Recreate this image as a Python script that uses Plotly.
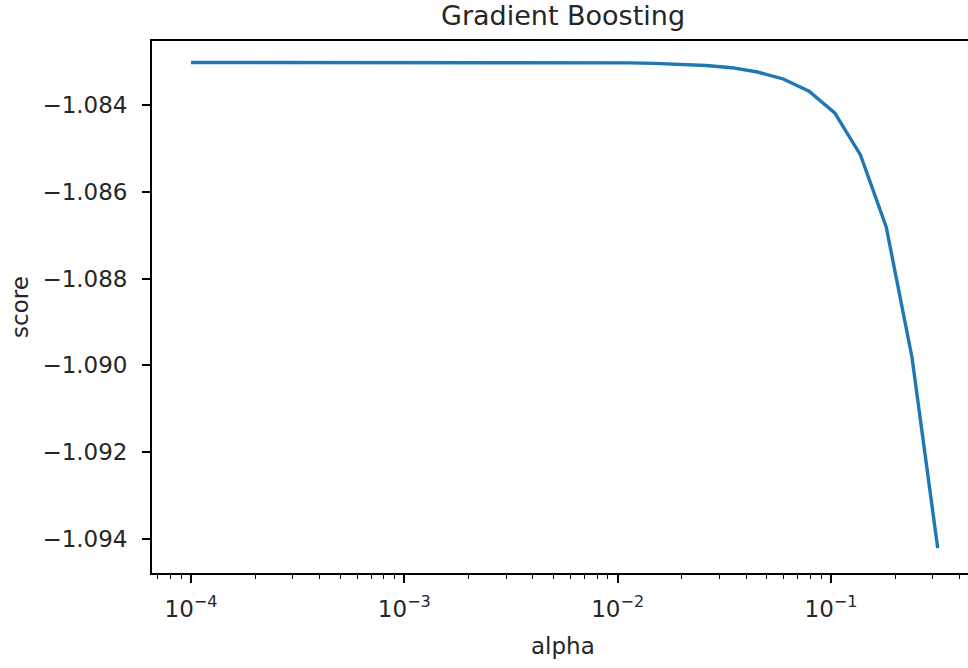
import plotly.graph_objects as go

# alpha values (log-spaced grid)
alpha = [1.0000e-4, 1.3209e-4, 1.7433e-4, 2.3025e-4, 3.0392e-4, 4.0116e-4,
         5.2977e-4, 6.9950e-4, 9.2366e-4, 1.2197e-3, 1.6106e-3, 2.1267e-3,
         2.8083e-3, 3.7083e-3, 4.8967e-3, 6.4660e-3, 8.5317e-3, 1.1265e-2,
         1.4876e-2, 1.9643e-2, 2.5938e-2, 3.4251e-2, 4.5230e-2, 5.9725e-2,
         7.8866e-2, 1.0404e-1, 1.3738e-1, 1.8141e-1, 2.3955e-1, 3.1623e-1]

score = [-1.08302, -1.08302, -1.08302, -1.08302, -1.08302, -1.08302,
         -1.08302, -1.08302, -1.08302, -1.08302, -1.08303, -1.08302,
         -1.08302, -1.08302, -1.08302, -1.08302, -1.08303, -1.08303,
         -1.08304, -1.08306, -1.08309, -1.08314, -1.08324, -1.08340,
         -1.08368, -1.08418, -1.08515, -1.08681, -1.08981, -1.09421]

x_tickvals = [1e-4, 1e-3, 1e-2, 1e-1]
x_ticktext = ["10<sup>\u22124</sup>", "10<sup>\u22123</sup>", "10<sup>\u22122</sup>", "10<sup>\u22121</sup>"]
x_minor_vals = [m * 10.0 ** e for e in (-5, -4, -3, -2, -1) for m in range(2, 10)]
y_tickvals = [-1.084, -1.086, -1.088, -1.090, -1.092, -1.094]

FONT = "DejaVu Sans"
TXT = "#262626"

fig = go.Figure()
fig.add_trace(go.Scatter(x=alpha, y=score, mode="lines",
                         line=dict(color="#1f77b4", width=3.4)))

W, H = 968, 668
L, T, B = 152, 41, 95
fig.update_layout(
    width=W, height=H,
    margin=dict(l=L, r=0, t=T, b=B, pad=0),
    paper_bgcolor="white", plot_bgcolor="white",
    showlegend=False,
    font=dict(family=FONT, size=23, color=TXT),
    title=dict(text="Gradient Boosting", x=563 / W, xanchor="center",
               y=1 - 16 / H, yanchor="middle", yref="container",
               font=dict(family=FONT, size=27, color=TXT)),
)
fig.update_xaxes(
    type="log", range=[-4.183, -0.358],
    showgrid=False, zeroline=False,
    showline=True, linecolor="black", linewidth=1.8, mirror=True,
    ticks="outside", ticklen=8, tickwidth=1.8, tickcolor="black",
    tickvals=x_tickvals, ticktext=x_ticktext,
    tickfont=dict(family=FONT, size=23, color=TXT),
    ticklabelstandoff=6,
    minor=dict(tickmode="array", tickvals=x_minor_vals,
               ticks="outside", ticklen=4.5, tickwidth=1.4, tickcolor="black",
               showgrid=False),
)
fig.update_yaxes(
    range=[-1.094783, -1.082525],
    showgrid=False, zeroline=False,
    showline=True, linecolor="black", linewidth=1.8, mirror=False,
    ticks="outside", ticklen=8, tickwidth=1.8, tickcolor="black",
    tickvals=y_tickvals, tickformat=".3f",
    tickfont=dict(family=FONT, size=23, color=TXT),
    ticklabelstandoff=10,
)
pw = W - L
ph = H - T - B
fig.add_annotation(text="alpha", xref="paper", yref="paper",
                   x=(563 - L) / pw, y=(H - B - 646) / ph,
                   xanchor="center", yanchor="middle", showarrow=False,
                   font=dict(family=FONT, size=23, color=TXT))
fig.add_annotation(text="score", xref="paper", yref="paper",
                   x=(20 - L) / pw, y=(H - B - 307) / ph, textangle=-90,
                   xanchor="center", yanchor="middle", showarrow=False,
                   font=dict(family=FONT, size=23, color=TXT))

fig.write_html("out.html",
               config={"displayModeBar": False},
               post_script="document.body.style.margin='0';document.body.style.overflow='hidden';")
